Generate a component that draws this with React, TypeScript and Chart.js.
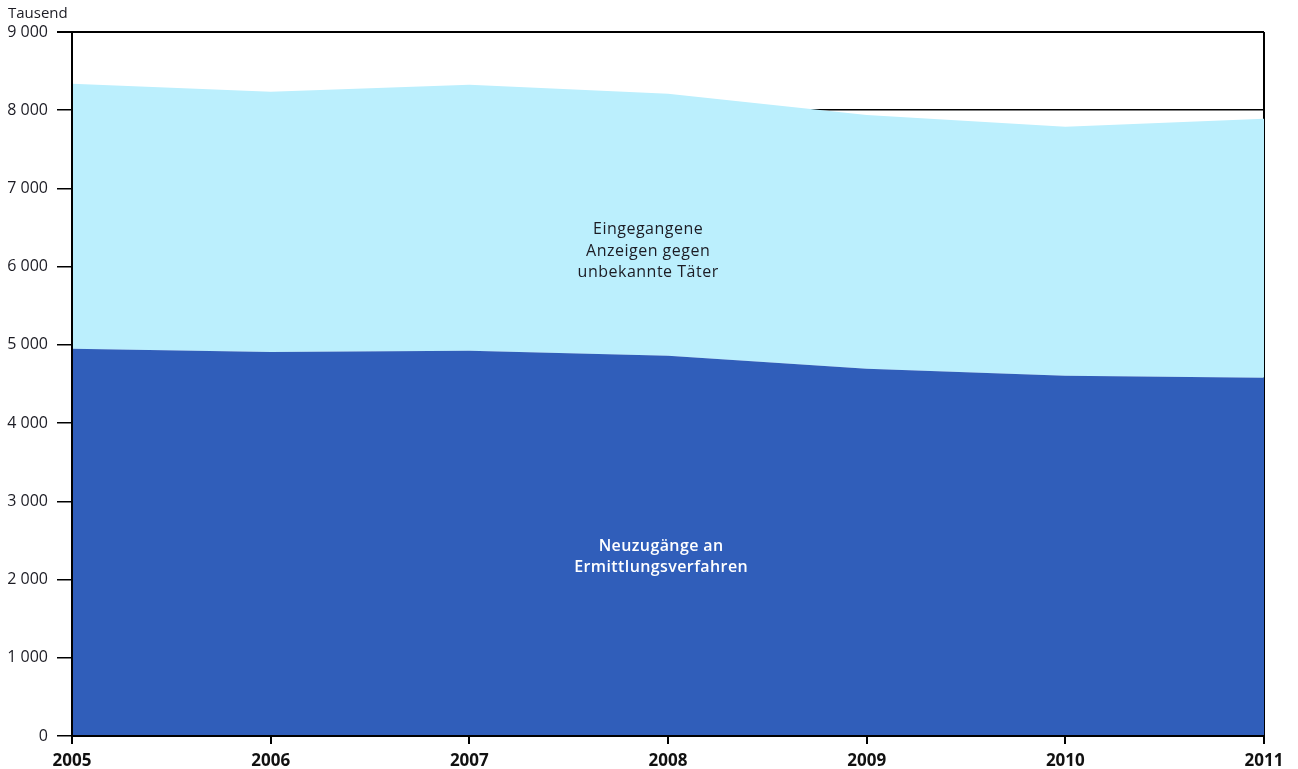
import React, { useEffect, useRef } from "react";
import { Chart, registerables } from "chart.js";

Chart.register(...registerables);

const years = [2005, 2006, 2007, 2008, 2009, 2010, 2011];
const neuzugaenge = [4950, 4910, 4925, 4860, 4695, 4605, 4580];
const anzeigenUnbekannt = [3390, 3325, 3400, 3350, 3245, 3185, 3310];
const yTicks = [0, 1000, 2000, 3000, 4000, 5000, 6000, 7000, 8000, 9000];
const unitLabel = "Tausend";
const labelAnzeigen = ["Eingegangene", "Anzeigen gegen", "unbekannte Täter"];
const labelNeu = ["Neuzugänge an", "Ermittlungsverfahren"];

const FONT = "'Open Sans', 'Noto Sans', sans-serif";

export default function App() {
  const ref = useRef<HTMLCanvasElement | null>(null);

  useEffect(() => {
    if (!ref.current) return;
    const overlay = {
      id: "overlay",
      afterDatasetsDraw(chart: any) {
        const { ctx, scales, chartArea } = chart;
        const xs = scales.x;
        const ys = scales.y;
        ctx.save();
        // axis lines
        ctx.strokeStyle = "#000";
        ctx.lineWidth = 2;
        ctx.beginPath();
        ctx.moveTo(chartArea.left, chartArea.top);
        ctx.lineTo(chartArea.left, chartArea.bottom);
        ctx.lineTo(chartArea.right, chartArea.bottom);
        ctx.stroke();
        // labels
        ctx.textAlign = "center";
        ctx.textBaseline = "middle";
        (ctx as any).letterSpacing = "0.5px";
        ctx.font = `16px ${FONT}`;
        ctx.fillStyle = "#1c1c24";
        const lx = xs.getPixelForValue(2007.9);
        const ly = ys.getPixelForValue(6200);
        labelAnzeigen.forEach((t, i) => ctx.fillText(t, lx, ly + (i - 1) * 21.5));
        (ctx as any).letterSpacing = "0.4px";
        ctx.font = `600 16px ${FONT}`;
        ctx.fillStyle = "#ffffff";
        const dy = ys.getPixelForValue(2290);
        labelNeu.forEach((t, i) => ctx.fillText(t, lx + 13, dy + (i - 0.5) * 21));
        // unit
        (ctx as any).letterSpacing = "0px";
        ctx.font = `15px ${FONT}`;
        ctx.fillStyle = "#1c1c24";
        ctx.textAlign = "left";
        ctx.fillText(unitLabel, 8, 14);
        ctx.restore();
      },
    };

    const chart = new Chart(ref.current, {
      type: "line",
      data: {
        datasets: [
          {
            label: "Neuzugänge an Ermittlungsverfahren",
            data: years.map((y, i) => ({ x: y, y: neuzugaenge[i] })),
            backgroundColor: "#305EBA",
            borderWidth: 0,
            pointRadius: 0,
            fill: "origin",
            tension: 0,
          },
          {
            label: "Eingegangene Anzeigen gegen unbekannte Täter",
            data: years.map((y, i) => ({ x: y, y: anzeigenUnbekannt[i] })),
            backgroundColor: "#BBEFFD",
            borderWidth: 0,
            pointRadius: 0,
            fill: "-1",
            tension: 0,
          },
        ],
      },
      plugins: [overlay],
      options: {
        animation: false,
        responsive: true,
        maintainAspectRatio: false,
        layout: { padding: { top: 32, right: 34, left: 0, bottom: 0 } },
        plugins: { legend: { display: false }, tooltip: { enabled: false } },
        scales: {
          x: {
            type: "linear",
            min: 2005,
            max: 2011,
            afterBuildTicks: (s: any) => {
              s.ticks = years.map((v) => ({ value: v }));
            },
            afterFit: (s: any) => {
              s.height = 33;
            },
            ticks: {
              callback: (v: any) => String(v),
              font: { family: FONT, size: 17, weight: "bold" },
              color: "#111",
              padding: 7,
              maxRotation: 0,
              autoSkip: false,
            },
            grid: {
              color: (c: any) => (c.index === years.length - 1 ? "#000" : "rgba(0,0,0,0)"),
              lineWidth: 2,
              tickColor: "#000",
              tickLength: 8,
              drawOnChartArea: true,
            },
            border: { display: false },
          },
          y: {
            stacked: true,
            min: 0,
            max: 9000,
            afterBuildTicks: (s: any) => {
              s.ticks = yTicks.map((v) => ({ value: v }));
            },
            afterFit: (s: any) => {
              s.width = 72;
            },
            ticks: {
              callback: (v: any) => String(v).replace(/\B(?=(\d{3})+(?!\d))/g, " "),
              font: { family: FONT, size: 16 },
              color: "#1c1c24",
              padding: 9,
            },
            grid: {
              color: "#000",
              lineWidth: (c: any) => (c.tick && c.tick.value === 9000 ? 2 : 1.5),
              tickColor: "#000",
              tickLength: 15,
            },
            border: { display: false },
          },
        },
      },
    });
    return () => chart.destroy();
  }, []);

  return (
    <div style={{ position: "fixed", left: 0, top: 0, width: 1298, height: 769, background: "#fff" }}>
      <canvas ref={ref} />
    </div>
  );
}
